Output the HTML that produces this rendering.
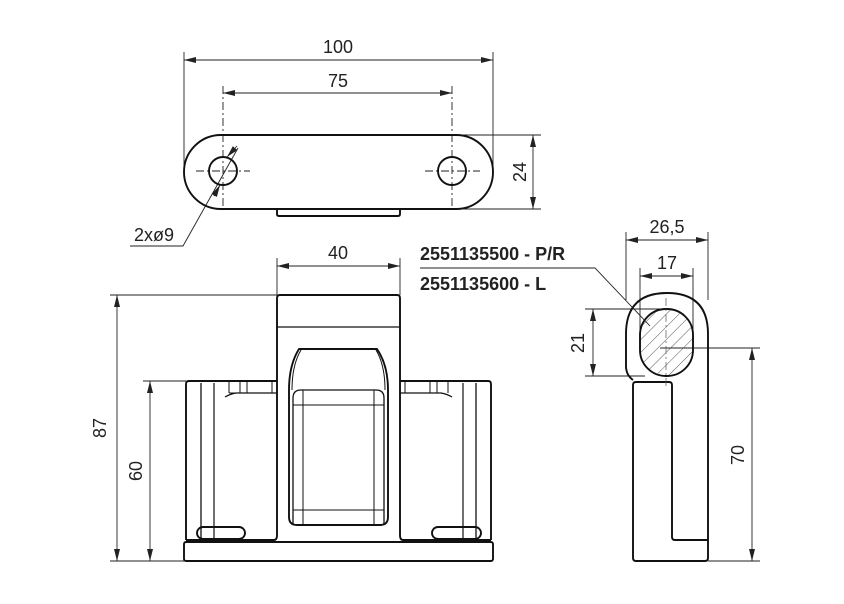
<!DOCTYPE html>
<html><head><meta charset="utf-8"><style>
html,body{margin:0;padding:0;background:#fff}
svg{display:block}
text{font-family:"Liberation Sans",Arial,sans-serif;fill:#222}
</style></head><body>
<svg width="844" height="604" viewBox="0 0 844 604" xmlns="http://www.w3.org/2000/svg">
<defs>
<marker id="a" viewBox="0 0 12 6" refX="12" refY="3" markerWidth="12" markerHeight="6" orient="auto-start-reverse" markerUnits="userSpaceOnUse"><path d="M0,0 L12,3 L0,6z" fill="#222"/></marker>
<pattern id="h" width="9" height="9" patternUnits="userSpaceOnUse" patternTransform="rotate(45)"><line x1="0" y1="0" x2="0" y2="9" stroke="#444" stroke-width="0.9"/></pattern>
</defs>
<g fill="none" stroke="#222" stroke-width="0.9">
<line x1="184" y1="52" x2="184" y2="170"/>
<line x1="493" y1="52" x2="493" y2="170"/>
<line x1="223" y1="86" x2="223" y2="210" stroke-dasharray="8,3,2,3"/>
<line x1="452" y1="86" x2="452" y2="210" stroke-dasharray="8,3,2,3"/>
<line x1="455" y1="135" x2="541" y2="135"/>
<line x1="455" y1="209" x2="541" y2="209"/>
<line x1="196" y1="171" x2="250" y2="171" stroke-dasharray="8,3,2,3"/>
<line x1="425" y1="171" x2="480" y2="171" stroke-dasharray="8,3,2,3"/>
<line x1="184" y1="60" x2="493" y2="60" marker-start="url(#a)" marker-end="url(#a)"/>
<line x1="223" y1="93" x2="452" y2="93" marker-start="url(#a)" marker-end="url(#a)"/>
<line x1="533" y1="135" x2="533" y2="209" marker-start="url(#a)" marker-end="url(#a)"/>
<polyline points="130,246 183,246 238,148"/>
<line x1="220" y1="185" x2="214" y2="196" marker-start="url(#a)"/>
<line x1="227" y1="157" x2="237" y2="146" marker-start="url(#a)"/>
<line x1="277" y1="258" x2="277" y2="295"/>
<line x1="400" y1="258" x2="400" y2="295"/>
<line x1="277" y1="266" x2="400" y2="266" marker-start="url(#a)" marker-end="url(#a)"/>
<line x1="110" y1="295" x2="277" y2="295"/>
<line x1="143" y1="381" x2="186" y2="381"/>
<line x1="110" y1="561" x2="184" y2="561"/>
<line x1="117" y1="295" x2="117" y2="561" marker-start="url(#a)" marker-end="url(#a)"/>
<line x1="150" y1="381" x2="150" y2="561" marker-start="url(#a)" marker-end="url(#a)"/>
<polyline points="420,268 595,268 650,326"/>
<line x1="626" y1="232" x2="626" y2="300"/>
<line x1="708" y1="232" x2="708" y2="300"/>
<line x1="626" y1="240" x2="708" y2="240" marker-start="url(#a)" marker-end="url(#a)"/>
<line x1="640" y1="268" x2="640" y2="330"/>
<line x1="693" y1="268" x2="693" y2="330"/>
<line x1="640" y1="276" x2="693" y2="276" marker-start="url(#a)" marker-end="url(#a)"/>
<line x1="585" y1="309" x2="660" y2="309"/>
<line x1="585" y1="376" x2="645" y2="376"/>
<line x1="593" y1="309" x2="593" y2="376" marker-start="url(#a)" marker-end="url(#a)"/>
<line x1="660" y1="348" x2="760" y2="348"/>
<line x1="708" y1="561" x2="760" y2="561"/>
<line x1="752" y1="348" x2="752" y2="561" marker-start="url(#a)" marker-end="url(#a)"/>
</g>
<g fill="none" stroke="#111" stroke-width="1.9" stroke-linejoin="round">
<rect x="184" y="135" width="309" height="74" rx="37"/>
<circle cx="223" cy="171" r="14"/>
<circle cx="452" cy="171" r="14"/>
<path d="M277,209 V214 Q277,216 279,216 H398 Q400,216 400,214 V209"/>
<path d="M186,540 V384 Q186,381 189,381 H277 V298 Q277,295 280,295 H397 Q400,295 400,298 V381 H488 Q491,381 491,384 V540"/>
<line x1="277" y1="327" x2="400" y2="327" stroke-width="1.2"/>
<line x1="277" y1="381" x2="277" y2="535"/>
<line x1="400" y1="381" x2="400" y2="535"/>
<path d="M186,540 H274 Q277,540 277,535"/>
<path d="M491,540 H403 Q400,540 400,535"/>
<rect x="184" y="542" width="309" height="19" rx="2"/>
<line x1="201" y1="383" x2="201" y2="540" stroke-width="1.3"/>
<line x1="214" y1="383" x2="214" y2="540" stroke-width="1.2"/>
<line x1="463" y1="383" x2="463" y2="540" stroke-width="1.2"/>
<line x1="476" y1="383" x2="476" y2="540" stroke-width="1.3"/>
<rect x="197" y="527" width="48" height="12" rx="6"/>
<rect x="432" y="527" width="49" height="12" rx="6"/>
<path d="M225,397 Q230,394 236,393 H277" stroke-width="1.3"/>
<line x1="229" y1="393" x2="277" y2="393" stroke-width="1"/>
<line x1="229" y1="381" x2="229" y2="393" stroke-width="1"/>
<line x1="240" y1="381" x2="240" y2="393" stroke-width="1"/>
<line x1="247" y1="381" x2="247" y2="393" stroke-width="1"/>
<line x1="272" y1="381" x2="272" y2="393" stroke-width="1"/>
<path d="M452,397 Q447,394 441,393 H400" stroke-width="1.3"/>
<line x1="448" y1="381" x2="448" y2="393" stroke-width="1"/>
<line x1="437" y1="381" x2="437" y2="393" stroke-width="1"/>
<line x1="430" y1="381" x2="430" y2="393" stroke-width="1"/>
<line x1="405" y1="381" x2="405" y2="393" stroke-width="1"/>
<path d="M299,349 H377 Q388,365 388,390 V517 Q388,525 380,525 H297 Q289,525 289,517 V390 Q289,365 299,349 Z"/>
<path d="M301,350 Q292,365 292,390 M376,350 Q385,365 385,390" stroke-width="1"/>
<path d="M293,525 V398 Q293,390 301,390 H376 Q384,390 384,398 V525" stroke-width="1.3"/>
<line x1="293" y1="405" x2="384" y2="405" stroke-width="1"/>
<line x1="293" y1="510" x2="384" y2="510" stroke-width="1"/>
<line x1="303" y1="390" x2="303" y2="525" stroke-width="1"/>
<line x1="374" y1="390" x2="374" y2="525" stroke-width="1"/>
<path d="M633,380 Q626,375 626,366 V334 Q626,293 667,293 Q708,293 708,334 V558 Q708,561 705,561 H636 Q633,561 633,558 V385 Q633,382 636,382 H669 Q672,382 672,385 V537 Q672,540 675,540 H708"/>
<rect x="640" y="309" width="53" height="67" rx="26" fill="url(#h)"/>
</g>
<g stroke="#555" stroke-width="0.7" fill="none" stroke-dasharray="8,3,2,3">
<line x1="666" y1="298" x2="666" y2="388"/>
</g>
<g font-size="18" text-anchor="middle">
<text x="338" y="53">100</text>
<text x="338" y="87">75</text>
<text x="338" y="259">40</text>
<text x="667" y="233">26,5</text>
<text x="667" y="269">17</text>
<text x="154" y="241">2xø9</text>
<text transform="translate(526,172) rotate(-90)">24</text>
<text transform="translate(106,428) rotate(-90)">87</text>
<text transform="translate(142,471) rotate(-90)">60</text>
<text transform="translate(584,343) rotate(-90)">21</text>
<text transform="translate(744,455) rotate(-90)">70</text>
</g>
<g font-size="18" font-weight="bold">
<text x="420" y="260">2551135500 - P/R</text>
<text x="420" y="290">2551135600 - L</text>
</g>
</svg>
</body></html>
